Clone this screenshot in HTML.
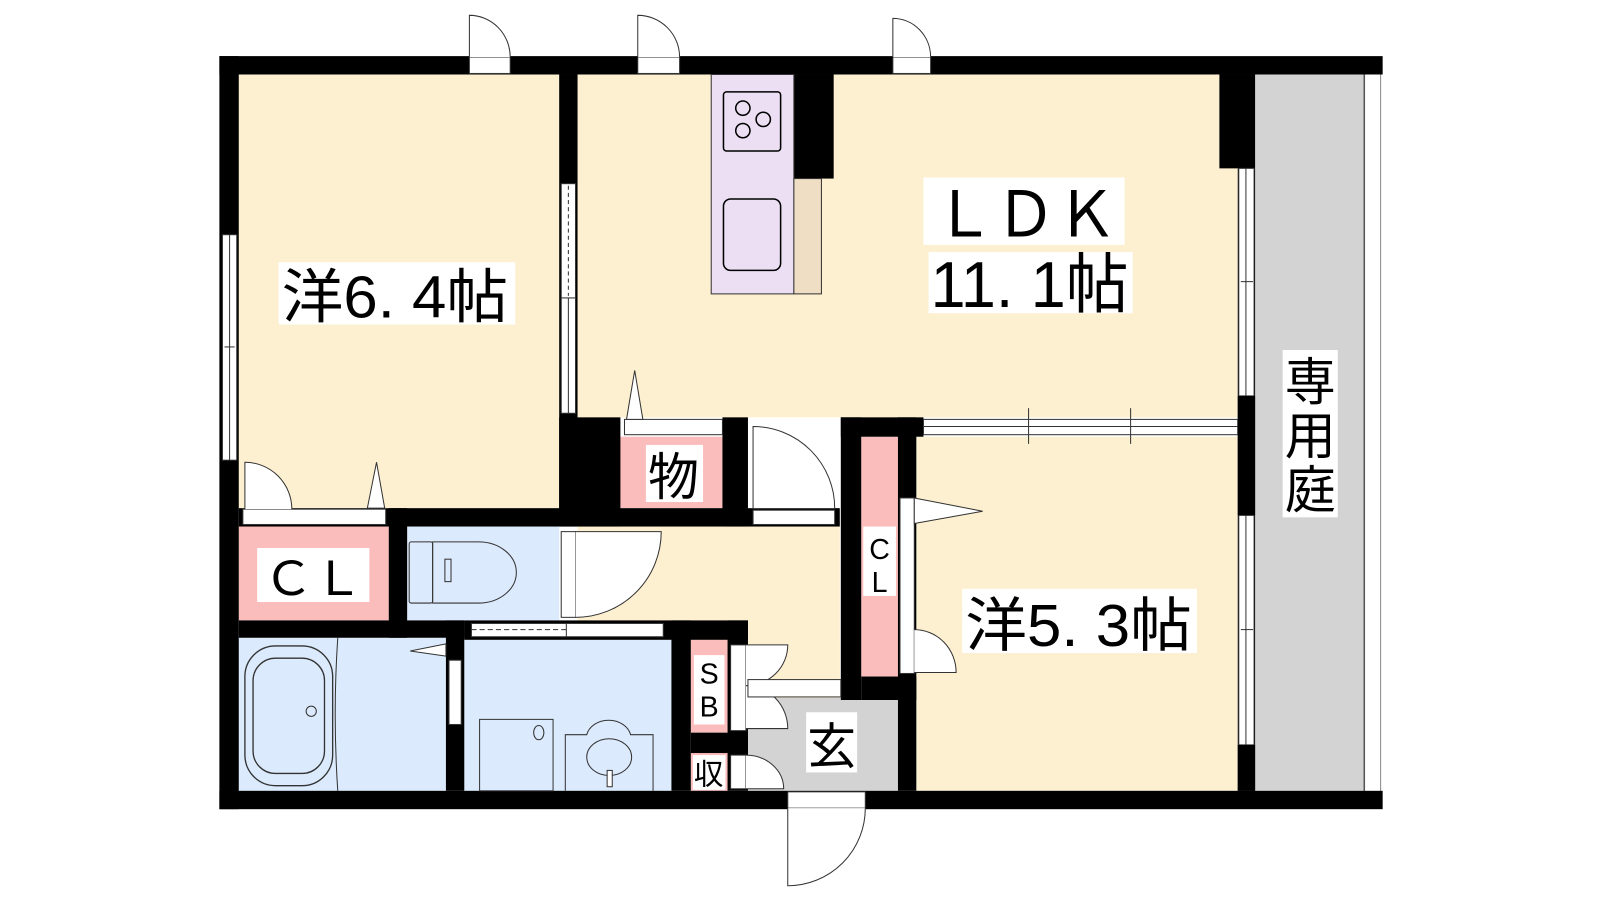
<!DOCTYPE html>
<html><head><meta charset="utf-8"><style>
html,body{margin:0;padding:0;background:#fff;width:1600px;height:900px;overflow:hidden}
svg{display:block}
text{font-family:"Liberation Sans","Noto Sans CJK JP",sans-serif;fill:#000}
</style></head><body>
<svg width="1600" height="900" viewBox="0 0 1568 882" xmlns="http://www.w3.org/2000/svg">
<rect width="1568" height="882" fill="#fff"/>
<!-- floors -->
<rect x="234" y="73" width="314" height="425" fill="#fdf0d0"/>
<rect x="566" y="73" width="647" height="336" fill="#fdf0d0"/>
<rect x="566" y="516" width="257" height="150" fill="#fdf0d0"/>
<rect x="733" y="628" width="90" height="56" fill="#fdf0d0"/>
<rect x="898" y="428" width="315" height="347" fill="#fdf0d0"/>
<rect x="1230" y="73" width="107" height="702" fill="#d3d3d3"/>
<rect x="234" y="516" width="147" height="92" fill="#fbbcbc"/>
<rect x="399" y="516" width="149" height="92" fill="#dbeafc"/>
<rect x="234" y="625" width="203" height="150" fill="#dbeafc"/>
<rect x="455" y="625" width="203" height="150" fill="#dbeafc"/>
<rect x="607" y="428" width="106" height="70" fill="#fbbcbc"/>
<rect x="844" y="428" width="36" height="235" fill="#fbbcbc"/>
<rect x="677" y="627" width="36" height="91" fill="#fbbcbc"/>
<rect x="677" y="738" width="36" height="37" fill="#fbbcbc"/>
<rect x="733" y="684" width="147" height="91" fill="#d3d3d3"/>
<line x1="1337" y1="73" x2="1337" y2="775" stroke="#555" stroke-width="1.5"/>
<line x1="1353" y1="73" x2="1353" y2="775" stroke="#888" stroke-width="1"/>
<!-- outer walls -->
<g fill="#000">
<rect x="215" y="55" width="1140" height="18"/>
<rect x="215" y="55" width="19" height="738"/>
<rect x="215" y="775" width="1140" height="18"/>
<rect x="1195" y="73" width="35" height="92"/>
<rect x="1213" y="165" width="17" height="610"/>
<!-- internal -->
<rect x="548" y="73" width="18" height="443"/>
<rect x="234" y="498" width="589" height="18"/>
<rect x="548" y="409" width="60" height="107"/>
<rect x="708" y="409" width="25" height="107"/>
<rect x="381" y="498" width="18" height="127"/>
<rect x="234" y="608" width="221" height="17"/>
<rect x="437" y="608" width="18" height="167"/>
<rect x="455" y="608" width="278" height="19"/>
<rect x="658" y="608" width="19" height="167"/>
<rect x="713" y="608" width="20" height="167"/>
<rect x="677" y="718" width="56" height="20"/>
<rect x="824" y="409" width="20" height="277"/>
<rect x="824" y="409" width="81" height="19"/>
<rect x="880" y="409" width="18" height="366"/>
<rect x="844" y="663" width="54" height="23"/>
<rect x="778" y="73" width="39" height="102"/>
</g>
<!-- windows -->
<g fill="#fff" stroke="#333" stroke-width="1">
<rect x="218" y="230" width="14" height="221"/><line x1="225" y1="230" x2="225" y2="451"/><line x1="220" y1="340" x2="230" y2="340"/>
<rect x="550" y="180" width="14" height="112"/><line x1="557" y1="182" x2="557" y2="290" stroke-dasharray="4 3"/>
<rect x="550" y="292" width="14" height="113"/><line x1="557" y1="292" x2="557" y2="405"/>
<rect x="1214" y="165" width="15" height="223"/><line x1="1221" y1="165" x2="1221" y2="388"/><line x1="1216" y1="276" x2="1228" y2="276"/>
<rect x="1214" y="505" width="15" height="225"/><line x1="1221" y1="505" x2="1221" y2="730"/><line x1="1216" y1="617" x2="1228" y2="617"/>
<rect x="905" y="411" width="308" height="15"/><line x1="905" y1="418" x2="1213" y2="418"/>
<line x1="1008" y1="400" x2="1008" y2="435"/><line x1="1108" y1="400" x2="1108" y2="435"/>
<rect x="1213" y="388" width="17" height="42" fill="#000" stroke="none"/>
<rect x="1213" y="430" width="17" height="75" fill="#000" stroke="none"/>
<rect x="1213" y="730" width="17" height="45" fill="#000" stroke="none"/>
<!-- top doors -->
<rect x="460" y="56" width="40" height="16"/><path d="M460,56 L460,15 A40,41 0 0 1 500,56"/>
<rect x="625" y="56" width="41" height="16"/><path d="M625,56 L625,15 A41,41 0 0 1 666,56"/>
<rect x="875" y="56" width="37" height="16"/><path d="M875,56 L875,18 A37,38 0 0 1 912,56"/>
<!-- bottom entry door -->
<rect x="772" y="776" width="76" height="16"/><path d="M772,792 L772,868 A76,76 0 0 0 848,792"/>
<!-- 6.4 closet doors -->
<rect x="238" y="499" width="140" height="15"/>
<path d="M240,499 L240,453 A46,46 0 0 1 286,499"/>
<path d="M360,498 L369,453 L377,498 Z"/>
<!-- mono storage -->
<rect x="612" y="411" width="96" height="15"/>
<path d="M614,411 L622,363 L630,411 Z"/>
<path d="M738,498 L738,418 A80,80 0 0 1 818,498"/>
<rect x="738" y="500" width="80" height="14"/>
<!-- toilet door -->
<rect x="550" y="521" width="14" height="84"/>
<path d="M564,521 L648,521 A84,84 0 0 1 564,605"/>
<!-- washroom sliding -->
<rect x="462" y="611" width="188" height="13"/>
<line x1="462" y1="617" x2="555" y2="617" stroke-dasharray="5 3"/>
<line x1="555" y1="611" x2="555" y2="624"/>
<!-- bath door -->
<rect x="440" y="647" width="12" height="63"/>
<path d="M437,643 L402,638 L437,631 Z"/>
<!-- closet CL right door -->
<rect x="882" y="488" width="14" height="172"/>
<path d="M896,488 L963,501 L896,513 Z"/>
<path d="M896,617 A41,42 0 0 1 937,659 L896,659"/>
<!-- SB doors -->
<rect x="716" y="632" width="15" height="84"/>
<path d="M731,632 L772,632 A41,40 0 0 1 731,672"/>
<path d="M731,672 A41,42 0 0 1 772,714 L731,714"/>
<rect x="716" y="740" width="15" height="33"/>
<path d="M731,740 A37,33 0 0 1 768,773 L731,773"/>
<rect x="733" y="666" width="91" height="17"/>
<!-- kitchen -->
<rect x="697" y="73" width="81" height="215" fill="#ecdff3"/>
<rect x="778" y="175" width="27" height="113" fill="#efdec4"/>
<rect x="709" y="90" width="56" height="58" rx="3" fill="none" stroke="#000" stroke-width="1.5"/>
<rect x="709" y="195" width="56" height="70" rx="7" fill="none" stroke="#000" stroke-width="1.5"/>
<circle cx="728" cy="106" r="7" fill="none" stroke="#000" stroke-width="1.5"/>
<circle cx="728" cy="128" r="7" fill="none" stroke="#000" stroke-width="1.5"/>
<circle cx="748" cy="117" r="7" fill="none" stroke="#000" stroke-width="1.5"/>
<!-- toilet -->
<rect x="401" y="531" width="23" height="60" rx="2" fill="none"/>
<path d="M424,531 L469,531 A37,30 0 0 1 469,591 L424,591 Z" fill="none"/>
<rect x="436" y="548" width="6" height="22" fill="none"/>
<!-- bathtub -->
<rect x="240" y="633" width="86" height="137" rx="30" fill="none" stroke-width="1.3"/>
<rect x="248" y="645" width="70" height="113" rx="22" fill="none" stroke-width="1.3"/>
<circle cx="305" cy="697" r="5" fill="none"/>
<path d="M331,625 Q326,700 331,775" fill="none"/>
<!-- washer / basin -->
<rect x="470" y="705" width="72" height="70" fill="none"/>
<ellipse cx="528" cy="718" rx="5" ry="7" fill="none"/>
<path d="M554,775 L554,720 L575,720 A22,18 0 0 1 618,720 L640,720 L640,775" fill="none"/>
<ellipse cx="597" cy="742" rx="22" ry="18" fill="none"/>
<rect x="595" y="755" width="5" height="16" fill="#fff"/>
</g>
<!-- labels -->
<rect x="273" y="257" width="232" height="61" fill="#fff"/>
<text x="276" y="311" font-size="58" textLength="222" lengthAdjust="spacingAndGlyphs">洋6. 4帖</text>
<rect x="905" y="174" width="197" height="66" fill="#fff"/>
<text x="915" y="232" font-size="62" textLength="180" lengthAdjust="spacingAndGlyphs">ＬＤＫ</text>
<rect x="910" y="247" width="200" height="60" fill="#fff"/>
<text x="912" y="301" font-size="64" textLength="194" lengthAdjust="spacingAndGlyphs">11. 1帖</text>
<rect x="943" y="577" width="230" height="63" fill="#fff"/>
<text x="946" y="633" font-size="58" textLength="222" lengthAdjust="spacingAndGlyphs">洋5. 3帖</text>
<rect x="252" y="537" width="110" height="53" fill="#fff"/>
<text x="258" y="583" font-size="46" textLength="98" lengthAdjust="spacingAndGlyphs">ＣＬ</text>
<rect x="633" y="436" width="56" height="56" fill="#fff"/>
<text x="635" y="485" font-size="50">物</text>
<rect x="846" y="516" width="32" height="68" fill="#fff"/>
<text x="862" y="548" font-size="28" text-anchor="middle">C</text>
<text x="862" y="580" font-size="28" text-anchor="middle">L</text>
<rect x="680" y="642" width="30" height="68" fill="#fff"/>
<text x="695" y="670" font-size="28" text-anchor="middle">S</text>
<text x="695" y="702" font-size="28" text-anchor="middle">B</text>
<rect x="679" y="740" width="32" height="34" fill="#fff"/>
<text x="680" y="769" font-size="29">収</text>
<rect x="790" y="698" width="50" height="59" fill="#fff"/>
<text x="791" y="748" font-size="48">玄</text>
<rect x="1257" y="343" width="54" height="164" fill="#fff"/>
<text x="1284" y="392" font-size="50" text-anchor="middle">専</text>
<text x="1284" y="445" font-size="50" text-anchor="middle">用</text>
<text x="1284" y="498" font-size="50" text-anchor="middle">庭</text>
</svg>
</body></html>
